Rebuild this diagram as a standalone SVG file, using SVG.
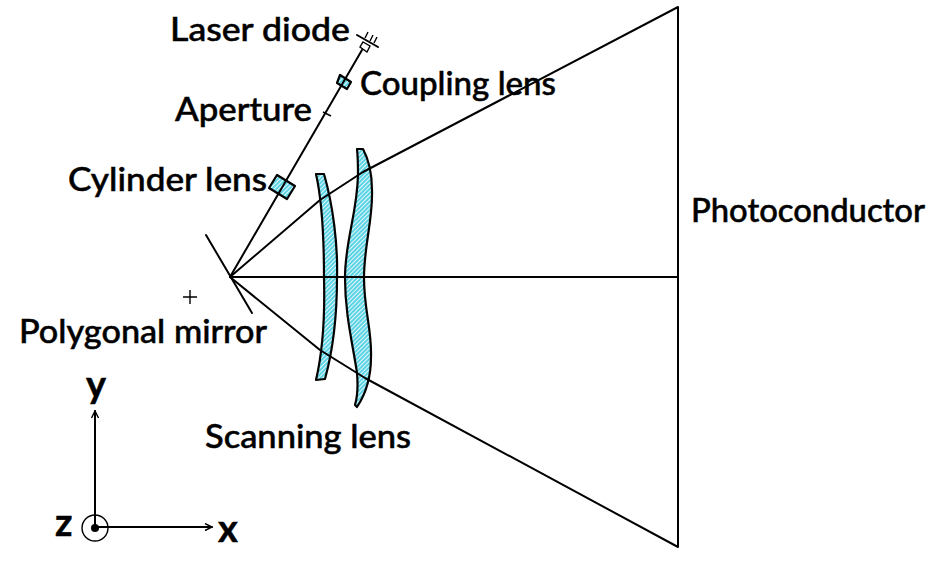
<svg xmlns="http://www.w3.org/2000/svg" width="945" height="566" viewBox="0 0 945 566">
<style>
.l{fill:none;stroke:#000;stroke-width:2;stroke-linecap:round;stroke-linejoin:round}
.t{fill:none;stroke:#000;stroke-width:1.4}
.h{fill:url(#hatch);stroke:#000;stroke-width:2.2;stroke-linejoin:round}
text{font-family:"Lato","Open Sans",sans-serif;font-size:32px;font-weight:500;fill:#000;stroke:#000;stroke-width:.5}
.a{font-size:38px;font-weight:700}
</style>
<defs>
<pattern id="hatch" width="3" height="3" patternUnits="userSpaceOnUse" patternTransform="rotate(-45)">
<rect width="3" height="3" fill="#5cd3e4"/><rect width="3" height="1" fill="#e4f8fb"/>
</pattern>
<marker id="arr" markerWidth="9" markerHeight="9" refX="8" refY="4" orient="auto" markerUnits="userSpaceOnUse"><path d="M1 0.5L8 4L1 7.5" fill="none" stroke="#000" stroke-width="1.4"/></marker>
</defs>
<rect width="945" height="566" fill="#fff"/>
<g id="scanning-lens">
<path class="h" d="M316 174L324 174C333 205 338 245 337 278C337 315 333 350 325 379L316 380C323 350 325 315 324 278C324 240 323 205 316 174Z"/>
<path class="h" d="M357 149L363 149C370 162 372 175 372 190C373 220 364 245 364 278C364 310 372 330 371 357C371 377 365 395 357 407L355 405C358 395 358 385 357 373C353 345 345 315 345 278C345 240 357 215 358 175C358 165 358 158 357 149Z"/>
<text x="205" y="448" textLength="206" lengthAdjust="spacingAndGlyphs">Scanning lens</text>
</g>
<g id="coupling-lens">
<path class="h" d="M340 75L351 82L347 89L337 83Z"/>
<text x="360" y="95" textLength="196" lengthAdjust="spacingAndGlyphs">Coupling lens</text>
</g>
<g id="cylinder-lens">
<path class="h" d="M277 175L295 186L287 199L269 188Z"/>
<text x="68" y="191" textLength="199" lengthAdjust="spacingAndGlyphs">Cylinder lens</text>
</g>
<g id="connectors">
<path class="l" d="M230 277L320 200L363 172L678 7L678 547L365 378L320 350L230 277"/>
<path class="l" d="M230 277L678 277"/>
<path class="l" d="M230 277L362 50"/>
</g>
<g id="laser-diode">
<path class="l" d="M357 35L378 47"/>
<path class="t" d="M363 42L370 46L367 52L360 47Z"/>
<path class="t" d="M365 38L368 32M370 41L373 35M374 43L377 37"/>
<text x="170" y="41" textLength="180" lengthAdjust="spacingAndGlyphs">Laser diode</text>
</g>
<g id="aperture">
<path class="t" d="M323 112L331 116"/>
<text x="175" y="121" textLength="137" lengthAdjust="spacingAndGlyphs">Aperture</text>
</g>
<g id="polygonal-mirror">
<path class="l" d="M206 235L252 313"/>
<path class="t" d="M183 297H197M190 290V304"/>
<text x="19" y="343" textLength="248" lengthAdjust="spacingAndGlyphs">Polygonal mirror</text>
</g>
<g id="photoconductor">
<text x="691" y="222" textLength="234" lengthAdjust="spacingAndGlyphs">Photoconductor</text>
</g>
<g id="axes">
<path class="l" d="M95 528V411" marker-end="url(#arr)"/>
<path class="l" d="M95 527H212" marker-end="url(#arr)"/>
<circle class="t" cx="95" cy="528" r="13"/>
<circle cx="95" cy="528" r="4"/>
<text class="a" x="86" y="398">y</text>
<text class="a" x="55" y="536">z</text>
<text class="a" x="218" y="542">x</text>
</g>
</svg>
